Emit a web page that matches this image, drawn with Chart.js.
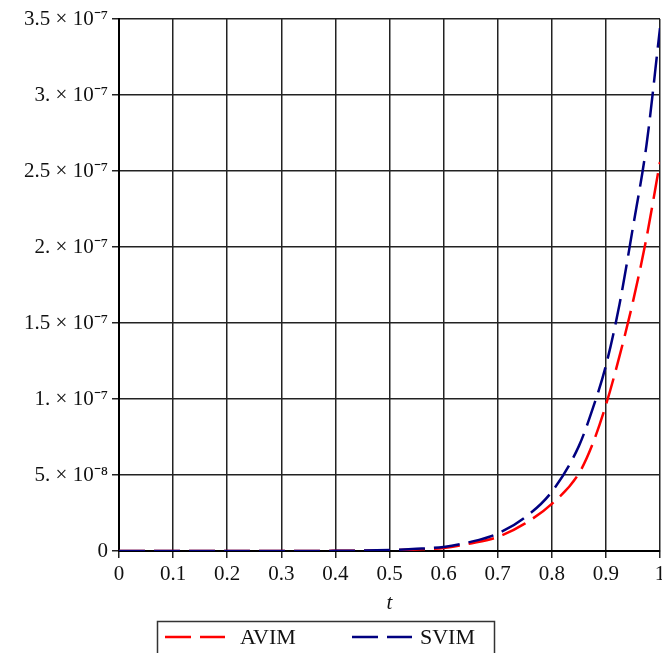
<!DOCTYPE html>
<html>
<head>
<meta charset="utf-8">
<script src="https://cdn.jsdelivr.net/npm/chart.js@4"></script>
<style>
  body { margin: 0; background: #fff; }
</style>
</head>
<body>
<canvas id="grafico" width="662" height="653"></canvas>
<script>
// valores
const tValues = [0, 0.05, 0.1, 0.15, 0.2, 0.25, 0.3, 0.35, 0.4, 0.45, 0.5, 0.55, 0.6, 0.65, 0.7, 0.75, 0.8, 0.85, 0.875, 0.9, 0.925, 0.95, 0.975, 1];

const avim = [0, 0, 0, 0, 0, 0, 0, 0, 1e-10, 2e-10, 5e-10, 1.0e-9, 2.0e-9, 5.0e-9, 9.2e-9, 1.8e-8, 3.1e-8, 5.1e-8, 7.0e-8, 9.6e-8, 1.28e-7, 1.64e-7, 2.06e-7, 2.56e-7];
const svim = [0, 0, 0, 0, 0, 0, 0, 0, 1e-10, 3e-10, 7e-10, 1.4e-9, 2.7e-9, 6.0e-9, 1.15e-8, 2.2e-8, 3.9e-8, 6.9e-8, 9.3e-8, 1.22e-7, 1.62e-7, 2.13e-7, 2.67e-7, 3.44e-7];

const seriesNames = ['AVIM', 'SVIM'];

const xTickLabels = ['0', '0.1', '0.2', '0.3', '0.4', '0.5', '0.6', '0.7', '0.8', '0.9', '1'];
const yTickLabels = ['0', '5. \u00d7 10\u207b\u2078', '1. \u00d7 10\u207b\u2077', '1.5 \u00d7 10\u207b\u2077', '2. \u00d7 10\u207b\u2077', '2.5 \u00d7 10\u207b\u2077', '3. \u00d7 10\u207b\u2077', '3.5 \u00d7 10\u207b\u2077'];

const serif = '"Liberation Serif", "Times New Roman", serif';

function puntos(ys) {
    return tValues.map((t, i) => ({x: t, y: ys[i]}));
}

// leyenda con recuadro, como en la figura
const leyendaCaja = {
    id: 'leyendaCaja',
    afterDraw(chart) {
        const ctx = chart.ctx;
        const lineX = [165, 352];
        const textX = [240, 420];
        ctx.save();
        ctx.strokeStyle = '#333';
        ctx.lineWidth = 1.5;
        ctx.strokeRect(157.5, 621.5, 337, 40);
        chart.data.datasets.forEach((ds, i) => {
            ctx.strokeStyle = ds.borderColor;
            ctx.lineWidth = ds.borderWidth;
            ctx.setLineDash(ds.borderDash);
            ctx.beginPath();
            ctx.moveTo(lineX[i], 637);
            ctx.lineTo(lineX[i] + 60, 637);
            ctx.stroke();
            ctx.setLineDash([]);
            ctx.fillStyle = '#111';
            ctx.font = '22px ' + serif;
            ctx.textBaseline = 'middle';
            ctx.fillText(ds.label, textX[i], 638);
        });
        ctx.restore();
    }
};

let lineas = document.getElementById("grafico").getContext("2d");

var chart = new Chart(lineas, {
    type: "line",
    data: {
        datasets: [
            {
                label: seriesNames[0],
                data: puntos(avim),
                borderColor: '#ff0000',
                borderWidth: 2.5,
                borderDash: [26, 9],
                pointRadius: 0,
                cubicInterpolationMode: 'monotone',
                fill: false,
                order: 1
            },
            {
                label: seriesNames[1],
                data: puntos(svim),
                borderColor: '#000080',
                borderWidth: 2.5,
                borderDash: [26, 9],
                pointRadius: 0,
                cubicInterpolationMode: 'monotone',
                fill: false,
                order: 0
            }
        ]
    },
    options: {
        responsive: false,
        animation: false,
        layout: {
            padding: {left: 0, top: 19, right: 2, bottom: 37}
        },
        plugins: {
            legend: {display: false},
            tooltip: {enabled: false}
        },
        scales: {
            x: {
                type: 'linear',
                min: 0,
                max: 1,
                afterFit(axis) {
                    axis.height = 65;
                    axis.paddingLeft = 0;
                    axis.paddingRight = 0;
                },
                ticks: {
                    stepSize: 0.1,
                    padding: 4,
                    color: '#111',
                    font: {family: serif, size: 21},
                    maxRotation: 0,
                    callback: (v, i) => xTickLabels[i]
                },
                grid: {color: '#222', lineWidth: 1.5, tickLength: 7},
                border: {color: '#000', width: 2},
                title: {
                    display: true,
                    text: 't',
                    color: '#111',
                    padding: 0,
                    font: {family: serif, size: 21, style: 'italic'}
                }
            },
            y: {
                min: 0,
                max: 3.5e-7,
                afterFit(axis) { axis.width = 119; },
                ticks: {
                    stepSize: 5e-8,
                    padding: 4,
                    color: '#111',
                    font: {family: serif, size: 21},
                    callback: (v, i) => yTickLabels[i]
                },
                grid: {color: '#222', lineWidth: 1.5, tickLength: 7},
                border: {color: '#000', width: 2}
            }
        }
    },
    plugins: [leyendaCaja]
});
</script>
</body>
</html>
